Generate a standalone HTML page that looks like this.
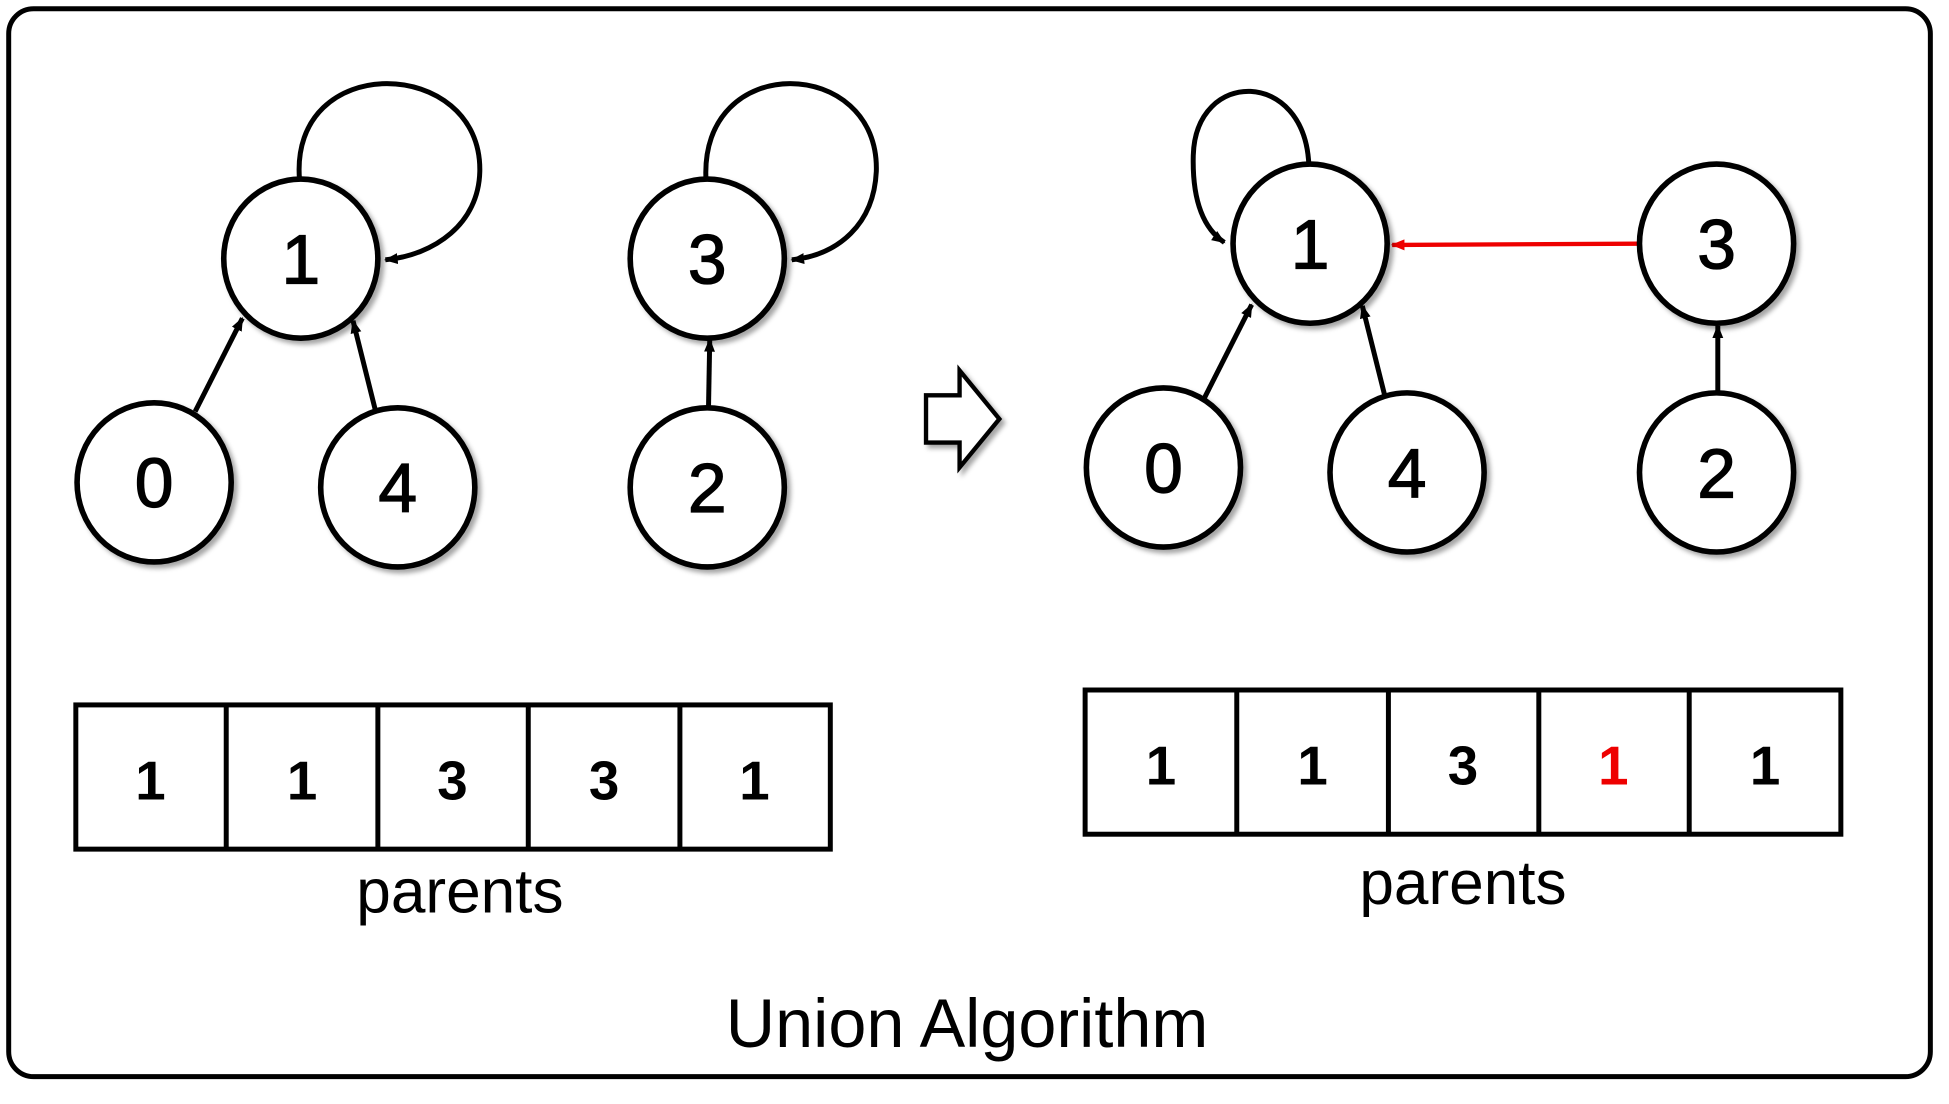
<!DOCTYPE html>
<html><head><style>html,body{margin:0;padding:0;background:#fff}svg{display:block}</style></head>
<body>
<svg width="1949" height="1104" viewBox="0 0 1568 888" preserveAspectRatio="none" xmlns="http://www.w3.org/2000/svg" font-family="'Liberation Sans','DejaVu Sans',sans-serif">
<defs>
<marker id="a" markerWidth="11" markerHeight="11" refX="9" refY="5" orient="auto" markerUnits="userSpaceOnUse" viewBox="0 0 10 10"><path d="M0,1 L10,5 L0,9 z" fill="#000"/></marker>
<marker id="r" markerWidth="11" markerHeight="11" refX="9" refY="5" orient="auto" markerUnits="userSpaceOnUse" viewBox="0 0 10 10"><path d="M0,1 L10,5 L0,9 z" fill="#e00"/></marker>
<filter id="s" x="-20%" y="-20%" width="150%" height="150%"><feDropShadow dx="3" dy="3" stdDeviation="2" flood-opacity="0.35"/></filter>
</defs>
<rect x="7" y="7" width="1546" height="859" rx="20" fill="#fff" stroke="#000" stroke-width="4"/>
<g fill="none" stroke="#000" stroke-width="4">
<path d="M241,145 C232,40 388,45 386,138 C385,180 350,205 310,209" marker-end="url(#a)"/>
<path d="M568,145 C562,40 708,45 705,138 C703,180 675,205 637,209" marker-end="url(#a)"/>
<line x1="157" y1="331" x2="195" y2="256" marker-end="url(#a)"/>
<line x1="302" y1="330" x2="284" y2="258" marker-end="url(#a)"/>
<line x1="570" y1="328" x2="571" y2="273" marker-end="url(#a)"/>
<path d="M1053,133 C1050,55 962,55 960,125 C959,165 970,185 985,195" marker-end="url(#a)"/>
<line x1="969" y1="320" x2="1007" y2="245" marker-end="url(#a)"/>
<line x1="1114" y1="318" x2="1096" y2="246" marker-end="url(#a)"/>
<line x1="1382" y1="316" x2="1382" y2="262" marker-end="url(#a)"/>
</g>
<line x1="1318" y1="196" x2="1120" y2="197" stroke="#e00" stroke-width="3.5" marker-end="url(#r)"/>
<g fill="#fff" stroke="#000" stroke-width="4.5" filter="url(#s)">
<ellipse cx="242" cy="208" rx="62" ry="64"/><ellipse cx="569" cy="208" rx="62" ry="64"/>
<ellipse cx="124" cy="388" rx="62" ry="64"/><ellipse cx="320" cy="392" rx="62" ry="64"/><ellipse cx="569" cy="392" rx="62" ry="64"/>
<ellipse cx="1054" cy="196" rx="62" ry="64"/><ellipse cx="1381" cy="196" rx="62" ry="64"/>
<ellipse cx="936" cy="376" rx="62" ry="64"/><ellipse cx="1132" cy="380" rx="62" ry="64"/><ellipse cx="1381" cy="380" rx="62" ry="64"/>
</g>
<g font-size="56" text-anchor="middle" fill="#000" stroke="#000" stroke-width="1">
<text x="242" y="228">1</text><text x="569" y="228">3</text><text x="124" y="408">0</text><text x="320" y="412">4</text><text x="569" y="412">2</text>
<text x="1054" y="216">1</text><text x="1381" y="216">3</text><text x="936" y="396">0</text><text x="1132" y="400">4</text><text x="1381" y="400">2</text>
</g>
<path d="M745,318 L772,318 L772,298 L804,337 L772,376 L772,356 L745,356 z" fill="#fff" stroke="#000" stroke-width="3.5" filter="url(#s)"/>
<g fill="none" stroke="#000" stroke-width="4">
<rect x="61" y="567" width="607" height="116"/>
<line x1="182" y1="567" x2="182" y2="683"/><line x1="304" y1="567" x2="304" y2="683"/><line x1="425" y1="567" x2="425" y2="683"/><line x1="547" y1="567" x2="547" y2="683"/>
<rect x="873" y="555" width="608" height="116"/>
<line x1="995" y1="555" x2="995" y2="671"/><line x1="1117" y1="555" x2="1117" y2="671"/><line x1="1238" y1="555" x2="1238" y2="671"/><line x1="1359" y1="555" x2="1359" y2="671"/>
</g>
<g font-size="44" font-weight="bold" text-anchor="middle" fill="#000">
<text x="121" y="643">1</text><text x="243" y="643">1</text><text x="364" y="643">3</text><text x="486" y="643">3</text><text x="607" y="643">1</text>
<text x="934" y="631">1</text><text x="1056" y="631">1</text><text x="1177" y="631">3</text><text x="1298" y="631" fill="#e00">1</text><text x="1420" y="631">1</text>
</g>
<text x="370" y="734" font-size="50" text-anchor="middle">parents</text>
<text x="1177" y="727" font-size="50" text-anchor="middle">parents</text>
<text x="778" y="842" font-size="55" text-anchor="middle">Union Algorithm</text>
</svg>
</body></html>
